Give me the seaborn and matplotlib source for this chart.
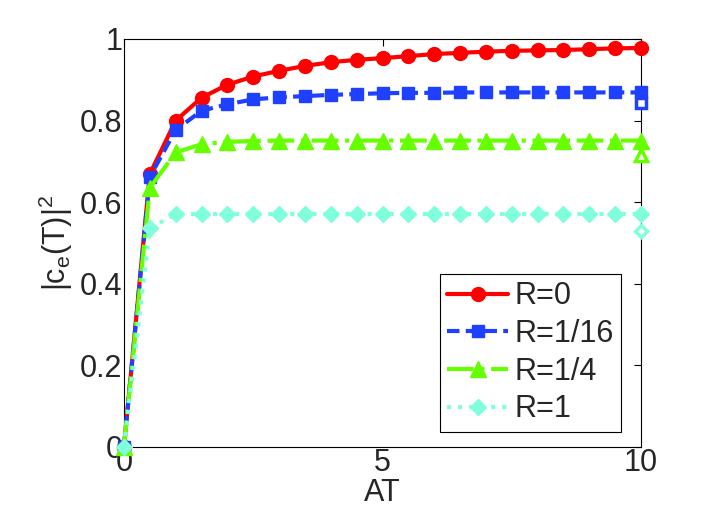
import numpy as np
import pandas as pd
import matplotlib
matplotlib.use("Agg")
import matplotlib.pyplot as plt
import seaborn as sns

# ── Data ──────────────────────────────────────────────────
at = np.arange(0, 10.01, 0.5)

r0 = [0, 0.669, 0.800, 0.856, 0.888, 0.908, 0.922, 0.934, 0.943, 0.949, 0.953,
      0.958, 0.963, 0.966, 0.969, 0.971, 0.972, 0.973, 0.975, 0.977, 0.978]
r16 = [0, 0.662, 0.777, 0.824, 0.840, 0.852, 0.857, 0.860, 0.863, 0.865, 0.867,
       0.868, 0.868, 0.869, 0.869, 0.869, 0.869, 0.869, 0.869, 0.869, 0.869]
r4 = [0, 0.635, 0.722, 0.742, 0.748, 0.750, 0.751, 0.751, 0.751, 0.751, 0.751,
      0.751, 0.751, 0.751, 0.751, 0.751, 0.751, 0.751, 0.751, 0.751, 0.751]
r1 = [0, 0.537, 0.570, 0.571, 0.571, 0.571, 0.571, 0.571, 0.571, 0.571, 0.571,
      0.571, 0.571, 0.571, 0.571, 0.571, 0.571, 0.571, 0.571, 0.571, 0.571]

# single open points at AT=10
end_x = [10, 10, 10]
end_y = [0.842, 0.716, 0.530]

labels = ["R=0", "R=1/16", "R=1/4", "R=1"]
colors = ["#FF0000", "#2040FF", "#66FF00", "#80FFDD"]
styles = ["-", (0, (3, 1.5)), "-.", ":"]
marks = ["o", "s", "^", "D"]
msizes = [10, 9, 11, 8]

sns.set_style("white")
plt.rcParams.update({
    "font.family": ["Liberation Sans", "DejaVu Sans"],
    "font.size": 20,
    "mathtext.fontset": "custom",
    "mathtext.rm": "Liberation Sans",
    "mathtext.it": "Liberation Sans",
    "xtick.direction": "in",
    "ytick.direction": "in",
})

fig = plt.figure(figsize=(7.06, 5.24), dpi=100)
ax = fig.add_axes([0.1756, 0.147, 0.7324, 0.7786])

for ys, lab, c, ls, mk, ms in zip([r0, r16, r4, r1], labels, colors, styles, marks, msizes):
    sns.lineplot(x=at, y=ys, ax=ax, color=c, linestyle=ls, linewidth=3,
                 marker=mk, markersize=ms, markeredgecolor=c, markeredgewidth=1,
                 label=lab, clip_on=False, zorder=3)

for x, y, c, mk, ms in zip(end_x, end_y, colors[1:], marks[1:], msizes[1:]):
    ax.plot([x], [y], linestyle="none", marker=mk, markersize=ms - 2,
            markerfacecolor="white", markeredgecolor=c, markeredgewidth=2.5,
            clip_on=False, zorder=4)

ax.set_xlim(0, 10)
ax.set_ylim(0, 1)
ax.set_xticks([0, 5, 10])
ax.set_xticklabels(["0", "5", "10"])
ax.set_yticks([0, 0.2, 0.4, 0.6, 0.8, 1])
ax.set_yticklabels(["0", "0.2", "0.4", "0.6", "0.8", "1"])
ax.tick_params(axis="both", labelsize=22, length=5, width=0.8, pad=1,
               top=True, right=True, color="black")
for s in ax.spines.values():
    s.set_color("black")
    s.set_linewidth(0.8)

ax.set_xlabel("AT", fontsize=22, labelpad=0)
ax.set_ylabel(r"$\mathrm{|c_e(T)|^2}$", fontsize=22, labelpad=4)

leg = ax.legend(loc="lower right", fontsize=22, frameon=True, fancybox=False,
                edgecolor="black", framealpha=1, handlelength=2.0,
                handletextpad=0.2, borderpad=0.25, labelspacing=0.25,
                borderaxespad=0, bbox_to_anchor=(0.962, 0.037))
leg.get_frame().set_linewidth(0.8)

fig.savefig("out.png", dpi=100, facecolor="white")
